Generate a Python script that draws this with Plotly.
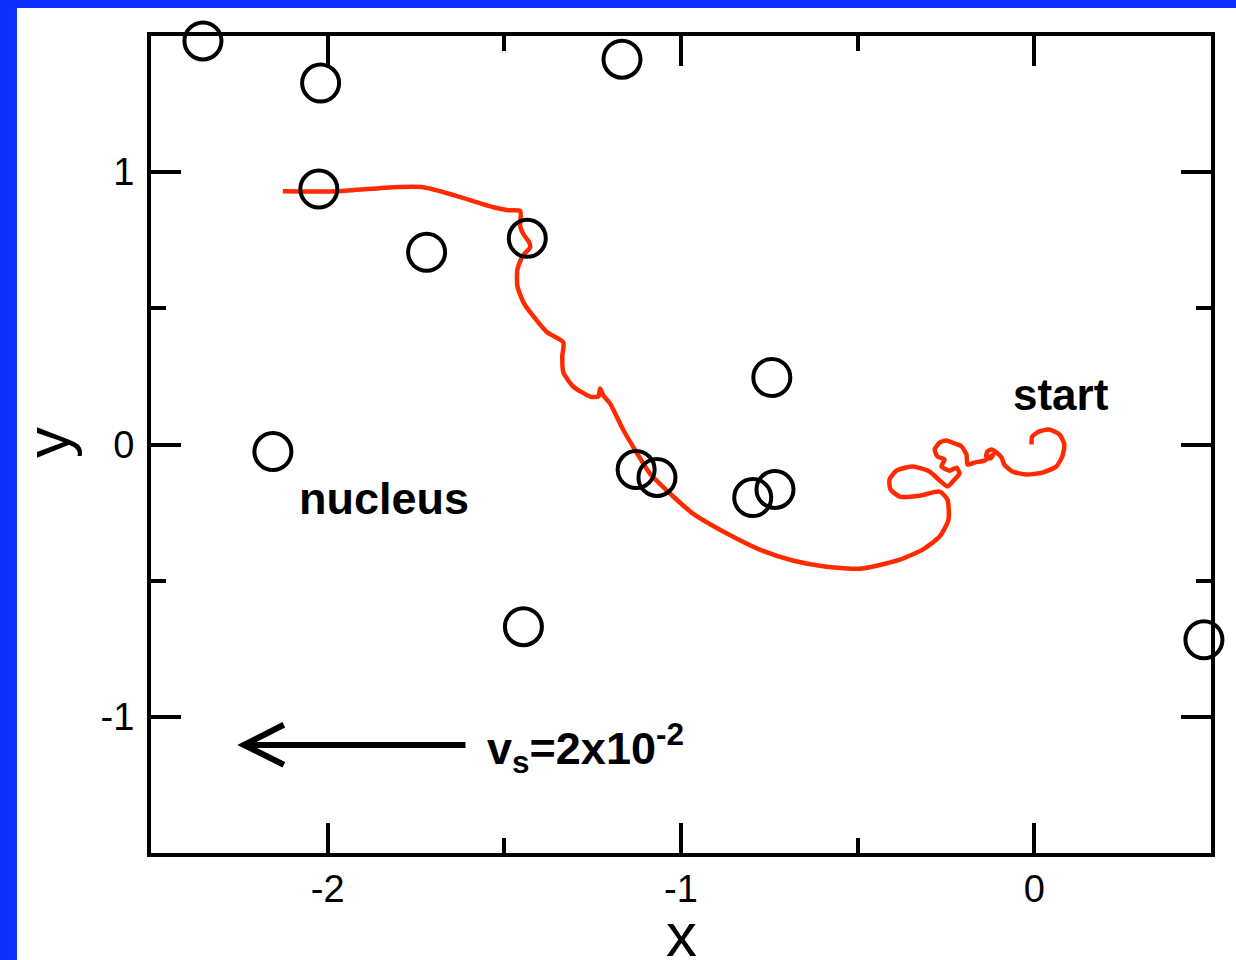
import plotly.graph_objects as go

# Trajectory (red), from "start" towards the left end
traj_x = [-0.008, -0.006, 0.014, 0.042, 0.071, 0.085, 0.079, 0.062, 0.023, -0.023,
          -0.062, -0.085, -0.093, -0.107, -0.121, -0.133, -0.136, -0.124, -0.116, -0.141,
          -0.169, -0.189, -0.192, -0.206, -0.232, -0.249, -0.268, -0.282, -0.274, -0.254,
          -0.263, -0.240, -0.220, -0.212, -0.226, -0.246, -0.268, -0.297, -0.345, -0.390,
          -0.410, -0.407, -0.381, -0.325, -0.268, -0.246, -0.243, -0.268, -0.316, -0.381,
          -0.446, -0.494, -0.588, -0.684, -0.777, -0.870, -0.966, -1.031, -1.088, -1.124,
          -1.164, -1.201, -1.220, -1.229, -1.234, -1.257, -1.305, -1.333, -1.336, -1.333,
          -1.379, -1.418, -1.446, -1.463, -1.463, -1.449, -1.427, -1.430, -1.446, -1.455,
          -1.455, -1.489, -1.531, -1.624, -1.681, -1.729, -1.814, -1.972, -2.127]
traj_y = [0.000, 0.029, 0.048, 0.055, 0.037, 0.000, -0.044, -0.081, -0.103, -0.110,
          -0.099, -0.074, -0.048, -0.029, -0.018, -0.026, -0.044, -0.051, -0.037, -0.059,
          -0.066, -0.074, -0.037, -0.007, 0.007, 0.015, 0.007, -0.018, -0.044, -0.055,
          -0.081, -0.096, -0.085, -0.107, -0.129, -0.154, -0.132, -0.099, -0.081, -0.096,
          -0.129, -0.165, -0.191, -0.188, -0.173, -0.202, -0.276, -0.338, -0.386, -0.423,
          -0.445, -0.456, -0.449, -0.426, -0.386, -0.327, -0.254, -0.180, -0.107, -0.033,
          0.055, 0.151, 0.180, 0.206, 0.176, 0.176, 0.213, 0.265, 0.324, 0.375,
          0.412, 0.471, 0.522, 0.581, 0.643, 0.691, 0.724, 0.743, 0.772, 0.801,
          0.857, 0.860, 0.871, 0.908, 0.930, 0.945, 0.945, 0.930, 0.930]

# Open circles
circle_x = [-2.353, -2.020, -1.167, -2.025, -1.720, -1.435, -2.155, -0.743,
            -1.127, -1.068, -0.797, -0.734, -1.446, 0.480]
circle_y = [1.482, 1.327, 1.415, 0.938, 0.706, 0.757, -0.026, 0.246,
            -0.092, -0.121, -0.195, -0.165, -0.669, -0.717]

x_tickvals = [-2, -1, 0]
x_ticktext = ["-2", "-1", "0"]
y_tickvals = [-1, 0, 1]
y_ticktext = ["-1", "0", "1"]

FONT = "Liberation Sans, Arial, Helvetica, sans-serif"
BLUE = "#1030ff"
RED = "#ff2a00"

fig = go.Figure()
fig.add_trace(go.Scatter(x=traj_x, y=traj_y, mode="lines",
                         line=dict(color=RED, width=4.5, shape="spline", smoothing=0.6),
                         showlegend=False, hoverinfo="skip"))
fig.add_trace(go.Scatter(x=circle_x, y=circle_y, mode="markers",
                         marker=dict(symbol="circle-open", size=37, color="black",
                                     line=dict(color="black", width=4)),
                         cliponaxis=False, showlegend=False, hoverinfo="skip"))

axis_common = dict(showgrid=False, zeroline=False, showline=True, linewidth=4,
                   linecolor="black", mirror="ticks", ticks="inside", ticklen=30,
                   tickwidth=4, tickcolor="black", automargin=False,
                   tickfont=dict(family=FONT, size=38, color="black"))

fig.update_xaxes(range=[-2.5, 0.5], tickvals=x_tickvals, ticktext=x_ticktext,
                 minor=dict(dtick=0.5, tick0=0, ticks="inside", ticklen=15,
                            tickwidth=4, tickcolor="black", showgrid=False),
                 ticklabelstandoff=-1, **axis_common)
fig.update_yaxes(range=[-1.5, 1.5], tickvals=y_tickvals, ticktext=y_ticktext,
                 minor=dict(dtick=0.5, tick0=0, ticks="inside", ticklen=15,
                            tickwidth=4, tickcolor="black", showgrid=False),
                 ticklabelstandoff=5, **axis_common)

W, H = 1236, 960
L, R, T, B = 151, 25, 36, 107
pw, ph = W - L - R, H - T - B

def px_x(p):
    return (p - L) / pw

def px_y(p):
    return 1 - (p - T) / ph

# blue frame strips (left and top)
fig.add_shape(type="rect", xref="paper", yref="paper", x0=px_x(-5), x1=px_x(17),
              y0=px_y(970), y1=px_y(-5), fillcolor=BLUE, line=dict(width=0), layer="below")
fig.add_shape(type="rect", xref="paper", yref="paper", x0=px_x(-5), x1=px_x(1245),
              y0=px_y(8), y1=px_y(-5), fillcolor=BLUE, line=dict(width=0), layer="below")

# velocity arrow (open chevron head)
fig.add_shape(type="line", x0=-1.610, y0=-1.103, x1=-2.230, y1=-1.103,
              line=dict(color="black", width=6))
fig.add_shape(type="path", path="M -2.124,-1.029 L -2.237,-1.103 L -2.124,-1.176",
              line=dict(color="black", width=6))

# axis titles
fig.add_annotation(xref="paper", yref="paper", x=0.5, y=px_y(934), xanchor="center",
                   yanchor="middle", text="x", showarrow=False,
                   font=dict(family=FONT, size=62, color="black"))
fig.add_annotation(xref="paper", yref="paper", x=px_x(47), y=px_y(443), xanchor="center",
                   yanchor="middle", text="y", showarrow=False, textangle=-90,
                   font=dict(family=FONT, size=62, color="black"))

fig.add_annotation(x=-2.088, y=-0.200, xanchor="left", yanchor="middle",
                   text="<b>nucleus</b>", showarrow=False,
                   font=dict(family=FONT, size=45, color="black"))
fig.add_annotation(x=-0.065, y=0.184, xanchor="left", yanchor="middle",
                   text="<b>start</b>", showarrow=False,
                   font=dict(family=FONT, size=44, color="black"))
fig.add_annotation(x=-1.554, y=-1.114, xanchor="left", yanchor="middle",
                   text="<b>v<sub>s</sub>=2x10<sup>-2</sup></b>", showarrow=False,
                   font=dict(family=FONT, size=45, color="black"))

fig.update_layout(width=W, height=H, margin=dict(l=L, r=R, t=T, b=B, autoexpand=False),
                  paper_bgcolor="white", plot_bgcolor="white",
                  font=dict(family=FONT, color="black"))

fig.write_html("out.html")
